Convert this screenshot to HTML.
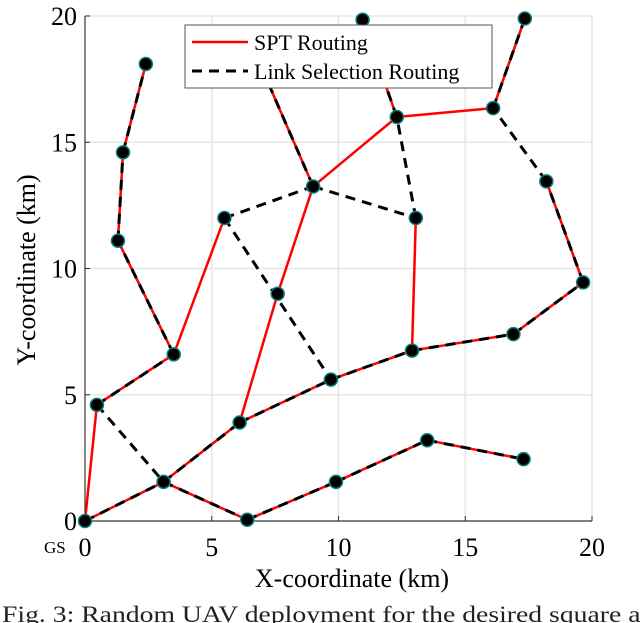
<!DOCTYPE html>
<html><head><meta charset="utf-8"><style>
html,body{margin:0;padding:0;background:#fff;width:640px;height:623px;overflow:hidden}
svg{display:block;font-family:"Liberation Serif",serif}
</style></head><body>
<svg id="chart" width="640" height="623" viewBox="0 0 640 623" xmlns="http://www.w3.org/2000/svg">
<g id="grid"></g>
<g id="axes"></g>
<g id="edges"></g>
<g id="nodes"></g>
<g>
<rect x="185" y="25" width="307" height="63" fill="#fff" stroke="#555" stroke-width="1"/>
<line x1="192" y1="42" x2="248" y2="42" stroke="#f00" stroke-width="2.5"/>
<text x="254" y="50" font-size="22">SPT Routing</text>
<line x1="192" y1="71" x2="248" y2="71" stroke="#000" stroke-width="3" stroke-dasharray="10,7"/>
<text x="254" y="79" font-size="22">Link Selection Routing</text>
</g>
<text x="352" y="587" font-size="26" text-anchor="middle">X-coordinate (km)</text>
<text transform="translate(35,270) rotate(-90)" font-size="26" text-anchor="middle">Y-coordinate (km)</text>
<text x="44" y="553" font-size="17">GS</text>
<text x="2" y="622" font-size="23" fill="#222" textLength="660" lengthAdjust="spacingAndGlyphs">Fig. 3: Random UAV deployment for the desired square are</text>
</svg>
<script>
const xTicks=[0,5,10,15,20];
const yTicks=[0,5,10,15,20];
const nodeX=[0,0.47,3.1,6.4,9.9,13.5,17.3,3.5,1.3,1.5,2.4,6.1,9.7,12.9,16.9,19.65,18.2,16.1,17.35,5.5,7.6,9.0,13.05,12.3,10.95,6.6];
const nodeY=[0,4.6,1.55,0.05,1.55,3.2,2.45,6.6,11.1,14.6,18.1,3.9,5.6,6.75,7.4,9.45,13.45,16.35,19.9,12.0,9.0,13.25,12.0,16.0,19.85,18.8];
const sptEdges=[[0,1],[1,7],[7,8],[8,9],[9,10],[7,19],[0,2],[2,11],[11,12],[12,13],[13,14],[14,15],[15,16],[17,18],[11,20],[20,21],[21,23],[23,17],[23,24],[22,13],[21,25],[2,3],[3,4],[4,5],[5,6]];
const linkEdges=[[1,7],[7,8],[8,9],[9,10],[1,2],[0,2],[2,11],[11,12],[12,13],[13,14],[14,15],[15,16],[16,17],[17,18],[19,12],[19,21],[21,22],[22,23],[23,24],[21,25],[2,3],[3,4],[4,5],[5,6]];
const NS="http://www.w3.org/2000/svg";
const X0=85,X1=592,Y0=521,Y1=16;
function sx(v){return X0+(v-0)/20*(X1-X0);}
function sy(v){return Y0-(v-0)/20*(Y0-Y1);}
function mk(tag,attrs,parent){const e=document.createElementNS(NS,tag);for(const k in attrs)e.setAttribute(k,attrs[k]);parent.appendChild(e);return e;}
const grid=document.getElementById('grid'),axes=document.getElementById('axes'),edges=document.getElementById('edges'),nodes=document.getElementById('nodes');
xTicks.forEach(t=>{if(t>0){const l=mk('line',{x1:sx(t),x2:sx(t),y1:Y1,y2:Y0,stroke:'#e6e6e6','stroke-width':1.5},grid);

}
const tk=mk('line',{x1:sx(t),x2:sx(t),y1:Y0,y2:Y0-5,stroke:'#333','stroke-width':1},axes);


const tx=mk('text',{x:sx(t),y:Y0+35,'font-size':26,'text-anchor':'middle'},axes);tx.textContent=t;

});
yTicks.forEach(t=>{if(t>0){const l=mk('line',{x1:X0,x2:X1,y1:sy(t),y2:sy(t),stroke:'#e6e6e6','stroke-width':1.5},grid);

}
const tk=mk('line',{x1:X0,x2:X0+5,y1:sy(t),y2:sy(t),stroke:'#333','stroke-width':1},axes);


const tx=mk('text',{x:X0-8,y:sy(t)+9,'font-size':26,'text-anchor':'end'},axes);tx.textContent=t;

});
const ax=mk('path',{d:`M${X0},${Y1}V${Y0}H${X1}`,fill:'none',stroke:'#333','stroke-width':1.2},axes);


sptEdges.forEach(e=>{const l=mk('line',{x1:sx(nodeX[e[0]]),y1:sy(nodeY[e[0]]),x2:sx(nodeX[e[1]]),y2:sy(nodeY[e[1]]),stroke:'#f00','stroke-width':2.5},edges);

});
linkEdges.forEach(e=>{const l=mk('line',{x1:sx(nodeX[e[0]]),y1:sy(nodeY[e[0]]),x2:sx(nodeX[e[1]]),y2:sy(nodeY[e[1]]),stroke:'#000','stroke-width':3,'stroke-dasharray':'10,7'},edges);

});
nodeX.forEach((v,i)=>{const c=mk('circle',{cx:sx(v),cy:sy(nodeY[i]),r:6.5,fill:'#000',stroke:'#0b7d7d','stroke-width':1.5},nodes);

});
</script>
</body></html>
